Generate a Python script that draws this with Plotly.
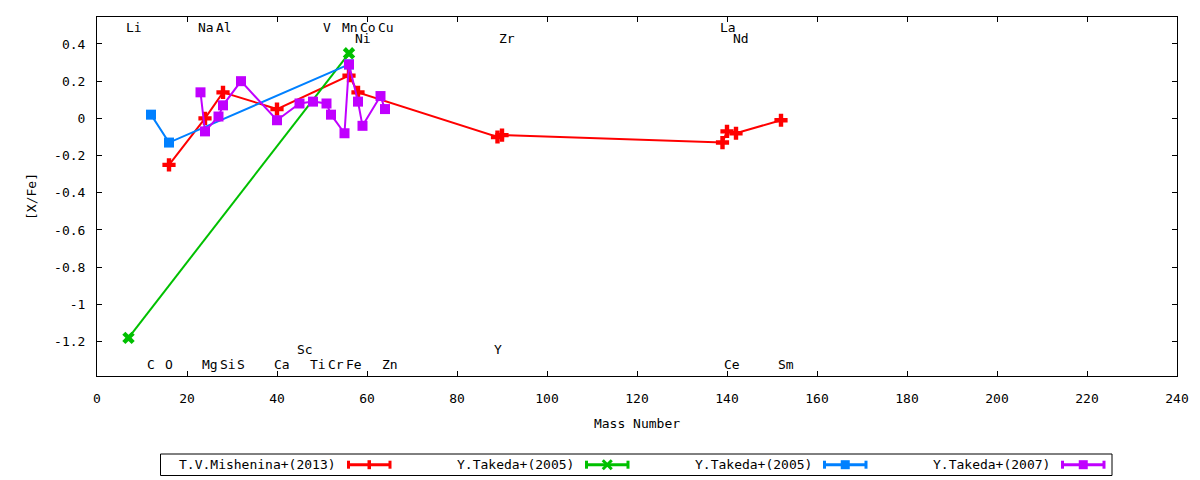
import plotly.graph_objects as go

# ---------------- data ----------------
mish_mass = [16, 24, 28, 40, 56, 58, 89, 90, 139, 140, 142, 152]
mish_val = [-0.25, 0.00, 0.14, 0.05, 0.23, 0.14, -0.10, -0.09, -0.13, -0.07, -0.08, -0.01]

tak05a_mass = [7, 56]
tak05a_val = [-1.18, 0.35]

tak05b_mass = [12, 16, 56]
tak05b_val = [0.02, -0.13, 0.29]

tak07_mass = [23, 24, 27, 28, 32, 40, 45, 48, 51, 52, 55, 56, 58, 59, 63, 64]
tak07_val = [0.14, -0.07, 0.01, 0.07, 0.20, -0.01, 0.08, 0.09, 0.08, 0.02, -0.08, 0.29, 0.09, -0.04, 0.12, 0.05]

series_names = ["T.V.Mishenina+(2013)", "Y.Takeda+(2005)", "Y.Takeda+(2005)", "Y.Takeda+(2007)"]

# element labels: name, mass, row (0 top, 1 top-second, 2 bottom, 3 bottom-upper)
elem_names = ["Li", "Na", "Al", "V", "Mn", "Co", "Cu", "Ni", "Zr", "La", "Nd",
              "C", "O", "Mg", "Si", "S", "Ca", "Ti", "Cr", "Fe", "Zn", "Ce", "Sm", "Sc", "Y"]
elem_mass = [7, 23, 27, 51, 55, 59, 63, 58, 90, 139, 142,
             12, 16, 24, 28, 32, 40, 48, 52, 56, 64, 140, 152, 45, 89]
elem_row = [0, 0, 0, 0, 0, 0, 0, 1, 1, 0, 1,
            2, 2, 2, 2, 2, 2, 2, 2, 2, 2, 2, 2, 3, 3]
row_y = [0.490, 0.432, -1.322, -1.245]

x_ticks = [0, 20, 40, 60, 80, 100, 120, 140, 160, 180, 200, 220, 240]
y_ticks = [0.4, 0.2, 0, -0.2, -0.4, -0.6, -0.8, -1, -1.2]
y_ticklabels = ["0.4", "0.2", "0", "-0.2", "-0.4", "-0.6", "-0.8", "-1", "-1.2"]

# ---------------- style ----------------
FONT = "DejaVu Sans Mono"
colors = ["#ff0000", "#00c000", "#0080ff", "#c000ff"]
symbols = ["cross", "x", "square", "square"]
msizes = [11, 11, 10, 10]

fig = go.Figure()
all_x = [mish_mass, tak05a_mass, tak05b_mass, tak07_mass]
all_y = [mish_val, tak05a_val, tak05b_val, tak07_val]
for xs, ys, c, s, ms, nm in zip(all_x, all_y, colors, symbols, msizes, series_names):
    fig.add_trace(go.Scatter(
        x=xs, y=ys, mode="lines+markers", name=nm,
        line=dict(color=c, width=2),
        marker=dict(symbol=s, size=ms, color=c, line=dict(width=0)),
        showlegend=False,
    ))

# element annotations
for nm, m, r in zip(elem_names, elem_mass, elem_row):
    fig.add_annotation(x=m, y=row_y[r], text=nm, showarrow=False,
                       xanchor="center", yanchor="middle",
                       xshift=5 if len(nm) > 1 else 0,
                       font=dict(family=FONT, size=13, color="black"))

# ---------------- manual legend (gnuplot style) ----------------
L, R, T, B = 97, 1177, 17, 376
def fx(px):
    return (px - L) / (R - L)
def fy(py):
    return (B - py) / (B - T)

shapes = []
shapes.append(dict(type="rect", xref="paper", yref="paper",
                   x0=fx(160.5), x1=fx(1112), y0=fy(475.5), y1=fy(454),
                   line=dict(color="black", width=1), fillcolor="rgba(0,0,0,0)"))
ly = 464.7
for i, (nm, c, s) in enumerate(zip(series_names, colors, symbols)):
    off = 238 * i
    tx = 338 + off
    a, b = 347.5 + off, 391 + off
    mid = (a + b) / 2
    fig.add_annotation(xref="paper", yref="paper", x=fx(tx), y=fy(ly), text=nm,
                       showarrow=False, xanchor="right", yanchor="middle",
                       font=dict(family=FONT, size=13, color="black"))
    shapes.append(dict(type="line", xref="paper", yref="paper",
                       x0=fx(a), x1=fx(b), y0=fy(ly), y1=fy(ly),
                       line=dict(color=c, width=3)))
    for ex in (a + 1, b - 1):
        shapes.append(dict(type="line", xref="paper", yref="paper",
                           x0=fx(ex), x1=fx(ex), y0=fy(ly - 4), y1=fy(ly + 4),
                           line=dict(color=c, width=3)))
    h = 4.5
    if s == "cross":
        shapes.append(dict(type="line", xref="paper", yref="paper",
                           x0=fx(mid), x1=fx(mid), y0=fy(ly - h), y1=fy(ly + h),
                           line=dict(color=c, width=3.5)))
    elif s == "x":
        for d in (1, -1):
            shapes.append(dict(type="line", xref="paper", yref="paper",
                               x0=fx(mid - h), x1=fx(mid + h), y0=fy(ly - d * h), y1=fy(ly + d * h),
                               line=dict(color=c, width=3)))
    else:
        shapes.append(dict(type="rect", xref="paper", yref="paper",
                           x0=fx(mid - 4.5), x1=fx(mid + 4.5), y0=fy(ly + 4.5), y1=fy(ly - 4.5),
                           line=dict(width=0), fillcolor=c))

fig.update_layout(
    width=1200, height=480,
    margin=dict(l=L, r=1200 - R, t=T, b=480 - B),
    paper_bgcolor="white", plot_bgcolor="white",
    font=dict(family=FONT, size=13, color="black"),
    shapes=shapes,
    xaxis=dict(range=[0, 240], tickvals=x_ticks, ticktext=[str(v) for v in x_ticks],
               ticks="inside", ticklen=5, tickcolor="black", mirror="ticks",
               showline=True, linecolor="black", linewidth=1, showgrid=False, zeroline=False,
               ticklabelstandoff=10,
               title=dict(text="Mass Number", standoff=14, font=dict(family=FONT, size=13))),
    yaxis=dict(range=[-1.385, 0.545], tickvals=y_ticks, ticktext=y_ticklabels,
               ticks="inside", ticklen=5, tickcolor="black", mirror="ticks",
               showline=True, linecolor="black", linewidth=1, showgrid=False, zeroline=False,
               ticklabelstandoff=8,
               title=dict(text="[X/Fe]", standoff=14, font=dict(family=FONT, size=13))),
)

fig.write_html("out.html", config={"displayModeBar": False},
               post_script="document.body.style.margin='0';document.body.style.overflow='hidden';")
